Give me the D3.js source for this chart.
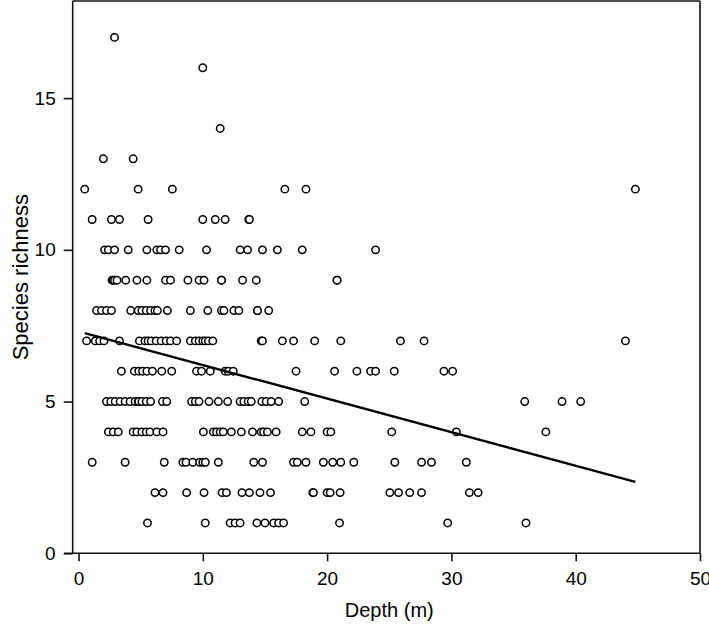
<!DOCTYPE html>
<html>
<head>
<meta charset="utf-8">
<script src="https://cdn.jsdelivr.net/npm/d3@7"></script>
<style>
  html, body { margin: 0; padding: 0; background: #fff; }
  svg { display: block; }
  text { font-family: "Liberation Sans", Arial, sans-serif; fill: #000; }
</style>
</head>
<body>
<div id="chart"></div>
<script>
// Depth values (m) grouped by species-richness level
const row1  = [5.55, 10.2, 12.2, 12.6, 13.0, 14.35, 15.0, 15.7, 16.1, 16.5, 21.0, 29.7, 36.0];
const row2  = [6.15, 6.8, 8.7, 10.1, 11.55, 11.9, 13.15, 13.75, 14.6, 15.45, 18.85, 18.9, 20.0, 20.25, 21.05, 25.05, 25.75, 26.65, 27.6, 31.45, 32.15];
const row3  = [1.1, 3.75, 6.9, 8.4, 8.65, 9.2, 9.75, 10.0, 10.2, 11.25, 14.1, 14.8, 17.3, 17.6, 18.3, 19.7, 20.45, 21.1, 22.15, 25.45, 27.6, 28.4, 31.2];
const row4  = [2.4, 2.8, 3.2, 4.4, 4.7, 5.1, 5.45, 5.75, 6.3, 6.8, 10.05, 10.85, 11.1, 11.4, 11.65, 12.3, 13.1, 14.0, 14.7, 14.9, 15.2, 15.9, 18.0, 18.7, 20.0, 20.3, 25.2, 30.4, 37.6];
const row5  = [2.25, 2.6, 2.95, 3.35, 3.75, 4.15, 4.55, 4.8, 4.85, 5.1, 5.45, 5.8, 6.75, 7.1, 9.1, 9.4, 9.7, 10.5, 11.25, 12.0, 13.0, 13.3, 13.65, 13.9, 14.75, 15.1, 15.5, 16.1, 18.2, 35.9, 38.9, 40.4];
const row6  = [3.45, 4.5, 4.85, 5.15, 5.5, 5.95, 6.7, 7.5, 9.5, 9.9, 10.6, 11.8, 12.05, 12.45, 17.5, 20.6, 22.4, 23.5, 23.9, 25.4, 29.4, 30.1];
const row7  = [0.65, 1.35, 1.7, 2.05, 3.3, 4.9, 5.35, 5.6, 5.85, 6.25, 6.65, 7.05, 7.4, 7.9, 9.0, 9.4, 9.7, 10.0, 10.2, 10.45, 10.8, 14.7, 14.8, 16.4, 17.3, 19.0, 21.1, 25.9, 27.8, 44.0];
const row8  = [1.45, 1.85, 2.25, 2.65, 4.2, 4.8, 5.1, 5.45, 5.8, 6.15, 6.35, 7.15, 9.0, 10.4, 11.5, 11.7, 12.5, 12.9, 14.4, 14.4, 15.3];
const row9  = [2.7, 2.8, 2.9, 3.1, 3.8, 4.7, 5.5, 7.0, 7.4, 8.8, 9.7, 10.1, 11.5, 11.5, 13.2, 14.3, 20.8, 20.8];
const row10 = [2.1, 2.4, 2.9, 4.0, 5.5, 6.3, 6.6, 7.0, 8.1, 10.3, 13.0, 13.6, 14.8, 16.0, 18.0, 23.9];
const row11 = [1.1, 2.65, 3.3, 5.6, 10.0, 11.0, 11.8, 13.7, 13.75];
const row12 = [0.5, 4.8, 7.55, 16.6, 18.3, 44.8];
const row13 = [2.0, 4.4];
const row14 = [11.4];
const row16 = [10.0];
const row17 = [2.9];

const richnessLevels = [1, 2, 3, 4, 5, 6, 7, 8, 9, 10, 11, 12, 13, 14, 16, 17];
const depthRows = [row1, row2, row3, row4, row5, row6, row7, row8, row9, row10, row11, row12, row13, row14, row16, row17];

// Fitted linear regression
const fitIntercept = 7.31;
const fitSlope = -0.1106;

const xTicks = [0, 10, 20, 30, 40, 50];
const yTicks = [0, 5, 10, 15];
const xLabel = "Depth (m)";
const yLabel = "Species richness";

const points = [];
depthRows.forEach((row, i) => row.forEach(d => points.push({ depth: d, rich: richnessLevels[i] })));
points.sort((a, b) => a.depth - b.depth);

const W = 709, H = 630;
const svg = d3.select("#chart").append("svg").attr("width", W).attr("height", H);

const x = d3.scaleLinear().domain([0, 50]).range([78.5, 700]);
const y = d3.scaleLinear().domain([0, 18.2]).range([553.3, 1]);

const axisColor = "#111";
const fontFam = "'Liberation Sans', Arial, sans-serif";

// Frame (top and right)
svg.append("line").attr("x1", 72.7).attr("x2", 700).attr("y1", 1).attr("y2", 1)
  .attr("stroke", axisColor).attr("stroke-width", 1.6);
svg.append("line").attr("x1", 700).attr("x2", 700).attr("y1", 1).attr("y2", 553.3)
  .attr("stroke", axisColor).attr("stroke-width", 1.6);

// X axis
const xAxis = d3.axisBottom(x).tickValues(xTicks).tickSize(8).tickPadding(10).tickFormat(d3.format("d"));
const gx = svg.append("g").attr("transform", "translate(0,553.3)").call(xAxis);
gx.select(".domain").remove();
gx.append("line").attr("x1", 64).attr("x2", 700).attr("y1", 0).attr("y2", 0)
  .attr("stroke", axisColor).attr("stroke-width", 1.6);
gx.selectAll(".tick line").attr("stroke", axisColor).attr("stroke-width", 1.6);
gx.selectAll(".tick text").attr("font-size", 19).attr("fill", "#000").style("font-family", fontFam);

// Y axis
const yAxis = d3.axisLeft(y).tickValues(yTicks).tickSize(9).tickPadding(8).tickFormat(d3.format("d"));
const gy = svg.append("g").attr("transform", "translate(72.7,0)").call(yAxis);
gy.select(".domain").remove();
gy.append("line").attr("x1", 0).attr("x2", 0).attr("y1", 1).attr("y2", 553.3)
  .attr("stroke", axisColor).attr("stroke-width", 1.6);
gy.selectAll(".tick line").attr("stroke", axisColor).attr("stroke-width", 1.6);
gy.selectAll(".tick text").attr("font-size", 19).attr("fill", "#000").style("font-family", fontFam);

// Points
svg.append("g").selectAll("circle").data(points).join("circle")
  .attr("cx", d => x(d.depth)).attr("cy", d => y(d.rich)).attr("r", 3.7)
  .attr("fill", "#fff").attr("stroke", "#000").attr("stroke-width", 1.5);

// Regression line over the depth range of the data
const dMin = d3.min(points, d => d.depth), dMax = d3.max(points, d => d.depth);
svg.append("line")
  .attr("x1", x(dMin)).attr("y1", y(fitIntercept + fitSlope * dMin))
  .attr("x2", x(dMax)).attr("y2", y(fitIntercept + fitSlope * dMax))
  .attr("stroke", "#000").attr("stroke-width", 2.4);

// Axis titles
svg.append("text").attr("x", x(25)).attr("y", 617).attr("text-anchor", "middle")
  .attr("font-size", 20).text(xLabel);
svg.append("text").attr("transform", `translate(28,${y(9.1)}) rotate(-90)`)
  .attr("text-anchor", "middle").attr("font-size", 22).text(yLabel);
</script>
</body>
</html>
